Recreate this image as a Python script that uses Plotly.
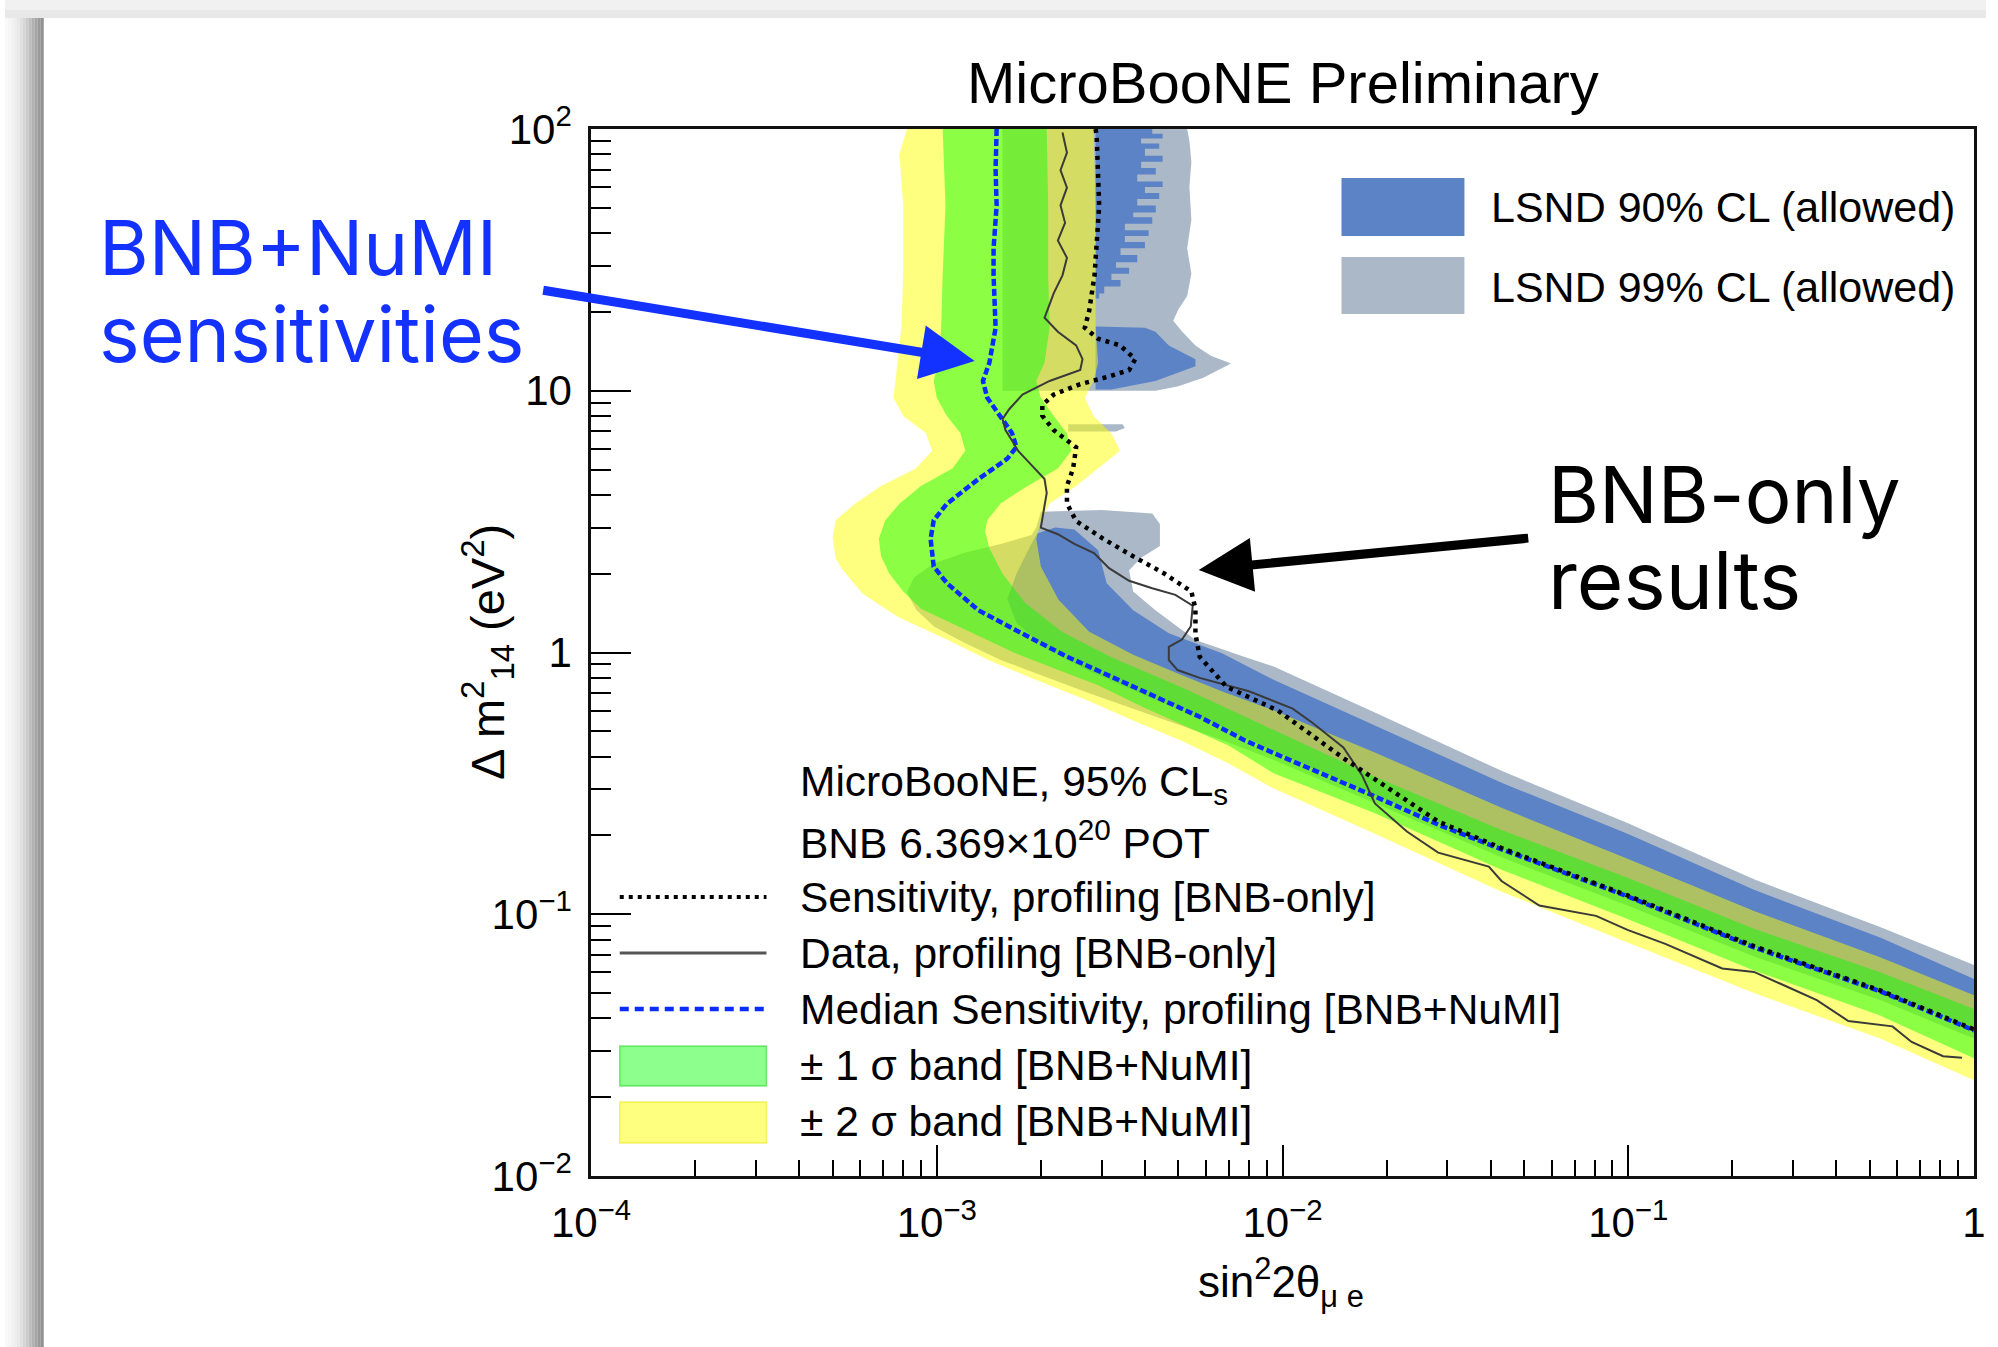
import plotly.graph_objects as go

# ---------------------------------------------------------------- data
# BNB+NuMI median sensitivity (blue dashed)
MED_X = [1.49e-3, 1.48e-3, 1.49e-3, 1.46e-3, 1.46e-3, 1.48e-3, 1.42e-3, 1.36e-3, 1.40e-3, 1.53e-3,
         1.65e-3, 1.70e-3, 1.60e-3, 1.32e-3, 1.07e-3, 9.8e-4, 9.6e-4, 9.7e-4, 9.8e-4, 1.07e-3,
         1.32e-3, 1.77e-3, 2.38e-3, 3.2e-3, 4.28e-3, 5.76e-3, 7.74e-3, 9.46e-3, 1.85e-2, 2.82e-2,
         4.3e-2, 0.0995, 0.231, 0.535, 1.0]
MED_Y = [100, 70, 51, 35, 27.6, 17.4, 12.8, 10.9, 9.4, 8.0,
         6.9, 6.1, 5.5, 4.6, 3.7, 3.2, 2.72, 2.4, 2.13, 1.84,
         1.45, 1.18, 0.964, 0.808, 0.678, 0.568, 0.463, 0.412, 0.282, 0.220,
         0.177, 0.117, 0.0747, 0.0508, 0.0360]

# +-2 sigma band (yellow): left/lower edge and right/upper edge, both from top to bottom-right
YEL_LO_X = [8.2e-4, 7.8e-4, 8.0e-4, 8.0e-4, 7.9e-4, 7.6e-4, 7.5e-4, 8.0e-4, 9.3e-4, 9.7e-4,
            8.7e-4, 6.9e-4, 5.8e-4, 5.1e-4, 5.0e-4, 5.1e-4, 5.3e-4, 6.1e-4, 7.7e-4, 1.07e-3,
            1.40e-3, 1.94e-3, 2.7e-3, 3.7e-3, 5.1e-3, 6.9e-3, 9.3e-3, 1.85e-2, 4.3e-2, 0.0995,
            0.231, 0.535, 1.0]
YEL_LO_Y = [100, 80, 51, 27.6, 17.4, 10.9, 9.4, 8.0, 6.9, 5.9,
            5.05, 4.33, 3.7, 3.2, 2.75, 2.3, 2.1, 1.68, 1.37, 1.12,
            0.94, 0.785, 0.66, 0.55, 0.46, 0.38, 0.305, 0.203, 0.122, 0.078,
            0.050, 0.0335, 0.0232]
YEL_HI_X = [2.84e-3, 2.88e-3, 2.88e-3, 2.88e-3, 2.93e-3, 2.84e-3, 2.68e-3, 2.84e-3, 3.2e-3, 3.39e-3,
            2.93e-3, 2.53e-3, 2.12e-3, 2.0e-3, 1.94e-3, 2.0e-3, 2.25e-3, 2.76e-3, 3.7e-3, 5.0e-3,
            6.7e-3, 9.46e-3, 1.85e-2, 4.3e-2, 0.0995, 0.231, 0.535, 1.0]
YEL_HI_Y = [100, 51, 27.6, 17.4, 12.8, 10.9, 9.4, 8.0, 6.87, 5.9,
            5.05, 4.33, 3.71, 3.18, 2.72, 2.13, 1.59, 1.2, 0.98, 0.83,
            0.71, 0.60, 0.415, 0.255, 0.163, 0.103, 0.0685, 0.0490]

# +-1 sigma band (green)
GRN_LO_X = [1.04e-3, 1.06e-3, 1.04e-3, 1.03e-3, 1.01e-3, 9.8e-4, 1.0e-3, 1.07e-3, 1.17e-3, 1.21e-3,
            1.11e-3, 9.0e-4, 7.8e-4, 7.1e-4, 6.8e-4, 6.9e-4, 7.3e-4, 8.0e-4, 9.0e-4, 1.07e-3,
            1.32e-3, 1.67e-3, 2.18e-3, 2.93e-3, 3.93e-3, 5.28e-3, 7.0e-3, 9.46e-3, 1.85e-2, 4.3e-2,
            0.0995, 0.231, 0.535, 1.0]
GRN_LO_Y = [100, 51, 27.6, 17.4, 12.8, 10.9, 9.4, 8.0, 6.9, 5.9,
            5.05, 4.33, 3.7, 3.2, 2.72, 2.33, 2.0, 1.71, 1.47, 1.32,
            1.15, 1.0, 0.87, 0.75, 0.62, 0.52, 0.44, 0.345, 0.243, 0.148,
            0.096, 0.061, 0.041, 0.0282]
GRN_HI_X = [2.08e-3, 2.10e-3, 2.10e-3, 2.12e-3, 2.05e-3, 1.94e-3, 2.0e-3, 2.18e-3, 2.38e-3, 2.45e-3,
            2.24e-3, 1.83e-3, 1.53e-3, 1.40e-3, 1.38e-3, 1.42e-3, 1.55e-3, 1.8e-3, 2.3e-3, 3.2e-3,
            5.3e-3, 9.46e-3, 1.85e-2, 4.3e-2, 0.0995, 0.231, 0.535, 1.0]
GRN_HI_Y = [100, 51, 27.6, 17.4, 12.8, 10.9, 9.4, 8.0, 6.87, 5.9,
            5.05, 4.33, 3.71, 3.2, 2.9, 2.5, 2.0, 1.55, 1.2, 0.96,
            0.72, 0.506, 0.335, 0.21, 0.138, 0.088, 0.060, 0.0435]

# BNB-only sensitivity (black dotted)
SENS_X = [2.88e-3, 2.90e-3, 2.95e-3, 2.86e-3, 2.76e-3, 2.68e-3, 2.93e-3, 3.39e-3, 3.75e-3, 3.6e-3,
          3.12e-3, 2.6e-3, 2.18e-3, 2.02e-3, 2.02e-3, 2.18e-3, 2.53e-3, 2.48e-3, 2.38e-3, 2.38e-3,
          2.53e-3, 3.03e-3, 3.7e-3, 4.56e-3, 5.45e-3, 5.6e-3, 5.6e-3, 5.76e-3, 6.88e-3, 9.7e-3,
          1.5e-2, 2.82e-2, 4.3e-2, 0.0995, 0.231, 0.535, 1.0]
SENS_Y = [100, 95, 51, 27.6, 20.2, 17.4, 15.8, 14.9, 13.2, 12.0,
          11.3, 10.6, 9.67, 8.81, 8.02, 7.07, 6.08, 5.05, 4.33, 3.71,
          3.18, 2.72, 2.33, 2.0, 1.71, 1.47, 1.18, 0.964, 0.74, 0.60,
          0.395, 0.226, 0.179, 0.118, 0.0755, 0.0512, 0.0363]

# BNB-only data (thin grey solid)
DATA_X = [2.31e-3, 2.38e-3, 2.28e-3, 2.38e-3, 2.28e-3, 2.35e-3, 2.24e-3, 2.38e-3, 2.31e-3, 2.18e-3,
          2.05e-3, 2.24e-3, 2.53e-3, 2.64e-3, 2.6e-3, 2.12e-3, 1.77e-3, 1.62e-3, 1.55e-3, 1.58e-3,
          1.65e-3, 1.72e-3, 1.88e-3, 2.05e-3, 2.08e-3, 2.05e-3, 2.02e-3, 2.0e-3, 2.24e-3, 2.5e-3,
          2.85e-3, 3.15e-3, 3.6e-3, 4.2e-3, 4.9e-3, 5.5e-3, 5.43e-3, 5.12e-3, 4.69e-3, 4.69e-3,
          4.97e-3, 5.76e-3, 8.0e-3, 1.07e-2, 1.22e-2, 1.5e-2, 1.7e-2, 1.85e-2, 2.29e-2, 2.82e-2,
          3.95e-2, 4.3e-2, 5.53e-2, 8.07e-2, 9.95e-2, 0.128, 0.187, 0.231, 0.285, 0.351,
          0.433, 0.581, 0.66, 0.814, 0.923]
DATA_Y = [97, 81.2, 69.6, 59.7, 51.1, 43.8, 37.5, 32.2, 27.6, 23.6,
          19.0, 16.8, 14.9, 13.2, 12.0, 10.9, 9.67, 8.5, 7.8, 7.07,
          6.46, 5.89, 5.2, 4.6, 4.07, 3.6, 3.3, 3.0, 2.83, 2.6,
          2.4, 2.1, 1.88, 1.76, 1.66, 1.51, 1.26, 1.12, 1.05, 0.936,
          0.857, 0.80, 0.711, 0.61, 0.539, 0.434, 0.339, 0.265, 0.207, 0.172,
          0.152, 0.134, 0.108, 0.0986, 0.0872, 0.0771, 0.0621, 0.0602, 0.0532, 0.047,
          0.0391, 0.0373, 0.0325, 0.0287, 0.0283]

# LSND 99% CL allowed regions (grey)
L99_TOP_X = [1.55e-3, 1.55e-3, 4.29e-3, 5.0e-3, 5.9e-3, 7.1e-3, 6.2e-3, 5.6e-3, 5.13e-3, 4.83e-3,
             5.0e-3, 5.3e-3, 5.45e-3, 5.3e-3, 5.45e-3, 5.38e-3, 5.45e-3, 5.38e-3, 5.3e-3]
L99_TOP_Y = [100, 10.0, 10.0, 10.4, 11.2, 12.7, 13.6, 14.9, 16.8, 18.5,
             20.5, 23, 28, 35, 45, 60, 75, 90, 100]
L99_MID_X = [2.4e-3, 3.45e-3, 3.5e-3, 3.3e-3, 2.4e-3]
L99_MID_Y = [7.45, 7.45, 7.2, 6.98, 6.98]
L99_LOW_X = [2.0e-3, 3.0e-3, 4.2e-3, 4.42e-3, 4.42e-3, 3.9e-3, 3.6e-3, 3.7e-3, 4.29e-3, 5.6e-3,
             7.74e-3, 9.46e-3, 1.85e-2, 4.3e-2, 0.0995, 0.231, 0.535, 1.0, 1.0, 0.535,
             0.231, 0.0995, 4.3e-2, 1.85e-2, 9.46e-3, 6.68e-3, 4.29e-3, 2.76e-3, 2.05e-3, 1.53e-3,
             1.21e-3, 9.84e-4, 8.73e-4, 8.2e-4, 8.6e-4, 9.8e-4, 1.21e-3, 1.53e-3, 1.88e-3, 1.94e-3]
L99_LOW_Y = [3.45, 3.5, 3.4, 3.1, 2.55, 2.3, 2.06, 1.71, 1.45, 1.116,
             0.964, 0.883, 0.59, 0.353, 0.223, 0.136, 0.0893, 0.0640, 0.0335, 0.047,
             0.069, 0.108, 0.165, 0.265, 0.388, 0.463, 0.569, 0.698, 0.809, 0.936,
             1.084, 1.255, 1.453, 1.7, 1.94, 2.19, 2.41, 2.6, 2.81, 3.0]

# LSND 90% CL allowed regions (blue)
L90_TOP_XL = 2.88e-3                       # left edge of the striped high-dm2 island
L90_TOP_YB = [100, 96, 92, 88, 84, 79, 75, 71, 67, 63, 60, 57, 54, 51, 48, 46, 43.5, 41, 39,
              37, 35, 33, 31, 29.5, 28, 26.5, 25, 23.5, 22.5]
L90_TOP_XR = [4.2e-3, 4.5e-3, 3.9e-3, 4.4e-3, 4.0e-3, 4.5e-3, 3.9e-3, 4.3e-3, 3.8e-3, 4.5e-3,
              4.0e-3, 4.4e-3, 3.8e-3, 4.3e-3, 3.7e-3, 4.2e-3, 3.5e-3, 4.1e-3, 3.5e-3, 4.0e-3,
              3.4e-3, 3.8e-3, 3.3e-3, 3.6e-3, 3.2e-3, 3.4e-3, 3.05e-3, 2.95e-3]
L90_MID_X = [2.88e-3, 4.0e-3, 4.29e-3, 4.69e-3, 5.6e-3, 5.6e-3, 4.29e-3, 3.2e-3, 2.88e-3]
L90_MID_Y = [17.6, 17.4, 16.8, 14.9, 13.2, 12.4, 10.9, 10.1, 10.1]
L90_LOW_X = [1.95e-3, 2.2e-3, 2.5e-3, 2.93e-3, 3.1e-3, 3.7e-3, 4.69e-3, 6.68e-3, 9.46e-3, 1.85e-2,
             4.3e-2, 0.0995, 0.231, 0.535, 1.0, 1.0, 0.535, 0.231, 0.0995, 4.3e-2,
             1.85e-2, 9.46e-3, 6.68e-3, 4.29e-3, 2.76e-3, 2.05e-3, 1.7e-3, 1.6e-3, 1.7e-3, 1.85e-3]
L90_LOW_Y = [2.85, 3.0, 2.95, 2.46, 1.84, 1.45, 1.184, 0.993, 0.785, 0.525,
             0.318, 0.203, 0.124, 0.0815, 0.0566, 0.036, 0.051, 0.075, 0.117, 0.178,
             0.285, 0.42, 0.52, 0.66, 0.85, 1.05, 1.3, 1.6, 2.0, 2.5]

# axis ticks
X_TICKS = [1e-4, 1e-3, 1e-2, 1e-1, 1]
X_TICKTEXT = ["10<sup>\u22124</sup>", "10<sup>\u22123</sup>", "10<sup>\u22122</sup>", "10<sup>\u22121</sup>", "1"]
Y_TICKS = [1e-2, 1e-1, 1, 10, 100]
Y_TICKTEXT = ["10<sup>\u22122</sup>", "10<sup>\u22121</sup>", "1", "10", "10<sup>2</sup>"]
X_MINOR = [k * 10.0 ** e for e in range(-4, 0) for k in range(2, 10)]
Y_MINOR = [k * 10.0 ** e for e in range(-2, 2) for k in range(2, 10)]

LEGEND_TEXT = ["MicroBooNE, 95% CL<sub>s</sub>",
               "BNB 6.369\u00d710<sup>20</sup> POT",
               "Sensitivity, profiling [BNB-only]",
               "Data, profiling [BNB-only]",
               "Median Sensitivity, profiling [BNB+NuMI]",
               "\u00b1 1 \u03c3 band [BNB+NuMI]",
               "\u00b1 2 \u03c3 band [BNB+NuMI]"]
LSND_TEXT = ["LSND 90% CL (allowed)", "LSND 99% CL (allowed)"]

# ---------------------------------------------------------------- style
W, H = 1998, 1347
ML, MR, MT, MB = 591, 12, 129, 171
PW, PH = W - ML - MR, H - MT - MB
FONT = "Liberation Sans, Arial, Helvetica, sans-serif"
ANN_FONT = "Inter, Lato, Noto Sans, sans-serif"
C_L90 = "#5b83c6"
C_L99 = "#aab8c8"
C_YEL = "rgba(255,255,0,0.5)"
C_GRN = "rgba(0,255,0,0.45)"
C_MED = "#0a2cff"
C_DATA = "#3a3a3a"
C_ARROW_BLUE = "#1432ff"


def pxp(x):  # page pixel -> paper x
    return (x - ML) / PW


def pyp(y):  # page pixel -> paper y
    return (H - MB - y) / PH


def band(lo_x, lo_y, hi_x, hi_y):
    return list(lo_x) + list(hi_x)[::-1], list(lo_y) + list(hi_y)[::-1]


def stairs(xl, yb, xr):
    xs, ys = [xl], [yb[0]]
    for i, x in enumerate(xr):
        xs += [x, x]
        ys += [yb[i], yb[i + 1]]
    xs.append(xl)
    ys.append(yb[-1])
    return xs, ys


fig = go.Figure()


def fill(xs, ys, color):
    fig.add_trace(go.Scatter(x=xs, y=ys, mode="lines", fill="toself", fillcolor=color,
                             line=dict(width=0), hoverinfo="skip", showlegend=False))


# LSND (opaque, underneath)
fill(L99_TOP_X, L99_TOP_Y, C_L99)
fill(L99_MID_X, L99_MID_Y, C_L99)
fill(L99_LOW_X, L99_LOW_Y, C_L99)
sx, sy = stairs(L90_TOP_XL, L90_TOP_YB, L90_TOP_XR)
fill(sx, sy, C_L90)
fill(L90_MID_X, L90_MID_Y, C_L90)
fill(L90_LOW_X, L90_LOW_Y, C_L90)

# sensitivity bands (translucent)
bx, by = band(YEL_LO_X, YEL_LO_Y, YEL_HI_X, YEL_HI_Y)
fill(bx, by, C_YEL)
bx, by = band(GRN_LO_X, GRN_LO_Y, GRN_HI_X, GRN_HI_Y)
fill(bx, by, C_GRN)

# lines
fig.add_trace(go.Scatter(x=MED_X, y=MED_Y, mode="lines", showlegend=False, hoverinfo="skip",
                         line=dict(color=C_MED, width=4.5, dash="7px,3px")))
fig.add_trace(go.Scatter(x=DATA_X, y=DATA_Y, mode="lines", showlegend=False, hoverinfo="skip",
                         line=dict(color=C_DATA, width=2)))
fig.add_trace(go.Scatter(x=SENS_X, y=SENS_Y, mode="lines", showlegend=False, hoverinfo="skip",
                         line=dict(color="black", width=4.5, dash="4px,5px")))

# ---------------------------------------------------------------- shapes (page background + legends)
shapes = []
# slide shadow on the left edge and grey strip on top
shade = ["#f9f9f9", "#f6f6f6", "#f2f2f2", "#eeeeee", "#e8e8e8", "#e0e0e0", "#d6d6d6",
         "#cbcbcb", "#bebebe", "#b1b1b1", "#a5a5a5", "#9a9a9a", "#929292"]
for i, c in enumerate(shade):
    shapes.append(dict(type="rect", xref="paper", yref="paper", layer="below",
                       x0=pxp(3 * i), x1=pxp(3 * i + 3), y0=pyp(H), y1=pyp(18),
                       fillcolor=c, line=dict(width=0)))
shapes.append(dict(type="rect", xref="paper", yref="paper", layer="below",
                   x0=pxp(0), x1=pxp(W), y0=pyp(10), y1=pyp(0), fillcolor="#f1f1f1", line=dict(width=0)))
shapes.append(dict(type="rect", xref="paper", yref="paper", layer="below",
                   x0=pxp(0), x1=pxp(W), y0=pyp(18), y1=pyp(10), fillcolor="#e8e8e8", line=dict(width=0)))

# bottom-left legend samples
lx0, lx1 = pxp(620), pxp(768)
shapes.append(dict(type="line", xref="paper", yref="paper", x0=lx0, x1=lx1, y0=pyp(897), y1=pyp(897),
                   line=dict(color="black", width=4, dash="4px,5px")))
shapes.append(dict(type="line", xref="paper", yref="paper", x0=lx0, x1=lx1, y0=pyp(953), y1=pyp(953),
                   line=dict(color="#555555", width=3)))
shapes.append(dict(type="line", xref="paper", yref="paper", x0=lx0, x1=lx1, y0=pyp(1009), y1=pyp(1009),
                   line=dict(color=C_MED, width=4.5, dash="9px,6px")))
shapes.append(dict(type="rect", xref="paper", yref="paper", x0=lx0, x1=lx1, y0=pyp(1086), y1=pyp(1046),
                   fillcolor=C_GRN, line=dict(color="rgba(0,200,0,0.45)", width=1.5)))
shapes.append(dict(type="rect", xref="paper", yref="paper", x0=lx0, x1=lx1, y0=pyp(1143), y1=pyp(1102),
                   fillcolor=C_YEL, line=dict(color="rgba(230,230,0,0.5)", width=1.5)))
# LSND legend boxes
shapes.append(dict(type="rect", xref="paper", yref="paper", x0=pxp(1348), x1=pxp(1472),
                   y0=pyp(236), y1=pyp(178), fillcolor=C_L90, line=dict(width=0)))
shapes.append(dict(type="rect", xref="paper", yref="paper", x0=pxp(1348), x1=pxp(1472),
                   y0=pyp(314), y1=pyp(257), fillcolor=C_L99, line=dict(width=0)))

# ---------------------------------------------------------------- annotations
ann = []


def text(x, y, s, size, color="black", xanchor="left", family=FONT, angle=0):
    ann.append(dict(x=pxp(x), y=pyp(y), xref="paper", yref="paper", text=s, showarrow=False,
                    xanchor=xanchor, yanchor="middle", textangle=angle,
                    font=dict(family=family, size=size, color=color)))


text(1289, 83, "MicroBooNE Preliminary", 58, xanchor="center")
text(1287, 1282, "sin<sup>2</sup>2\u03b8<sub>\u03bc e</sub>", 44, xanchor="center")
text(486, 652, "\u0394 m<sup>2</sup><sub>14</sub> (eV<sup>2</sup>)", 47, xanchor="center", angle=-90)

for s, yy in zip(LEGEND_TEXT, [784, 840, 897, 953, 1009, 1065, 1121]):
    text(800, yy, s, 42.5)
for s, yy in zip(LSND_TEXT, [207, 287]):
    text(1497, yy, s, 43)

text(93, 247, "BNB+NuMI", 76, color=C_ARROW_BLUE, family=ANN_FONT)
text(93, 334, "sensitivities", 77, color=C_ARROW_BLUE, family=ANN_FONT)
text(1554, 494, "BNB-only", 78, family=ANN_FONT)
text(1554, 579, "results", 80, family=ANN_FONT)

# arrows
ann.append(dict(x=pxp(978), y=pyp(361), xref="paper", yref="paper", text="", showarrow=True,
                ax=545 - 978, ay=290 - 361, axref="pixel", ayref="pixel",
                arrowhead=2, arrowsize=1.2, arrowwidth=9, arrowcolor=C_ARROW_BLUE, standoff=0))
ann.append(dict(x=pxp(1204), y=pyp(570), xref="paper", yref="paper", text="", showarrow=True,
                ax=1535 - 1204, ay=538 - 570, axref="pixel", ayref="pixel",
                arrowhead=2, arrowsize=1.2, arrowwidth=9, arrowcolor="black", standoff=0))

axis_common = dict(type="log", showgrid=False, zeroline=False, showline=True, mirror=True,
                   linecolor="#111111", linewidth=2.5, ticks="inside", tickcolor="black",
                   tickwidth=1.6, tickmode="array",
                   tickfont=dict(family=FONT, size=42, color="black"))

fig.update_layout(
    width=W, height=H, autosize=False,
    margin=dict(l=ML, r=MR, t=MT, b=MB, pad=0),
    paper_bgcolor="white", plot_bgcolor="white",
    showlegend=False, hovermode=False,
    font=dict(family=FONT, color="black"),
    xaxis=dict(axis_common, range=[-4, 0], tickvals=X_TICKS, ticktext=X_TICKTEXT, ticklen=31,
               ticklabelstandoff=8,
               minor=dict(tickmode="array", tickvals=X_MINOR, ticks="inside", ticklen=16,
                          tickwidth=1.6, tickcolor="black", showgrid=False)),
    yaxis=dict(axis_common, range=[-2, 2], tickvals=Y_TICKS, ticktext=Y_TICKTEXT, ticklen=40,
               ticklabelstandoff=8,
               minor=dict(tickmode="array", tickvals=Y_MINOR, ticks="inside", ticklen=20,
                          tickwidth=1.6, tickcolor="black", showgrid=False)),
    shapes=shapes,
    annotations=ann,
)

fig.write_html("out.html", config={"displayModeBar": False})
